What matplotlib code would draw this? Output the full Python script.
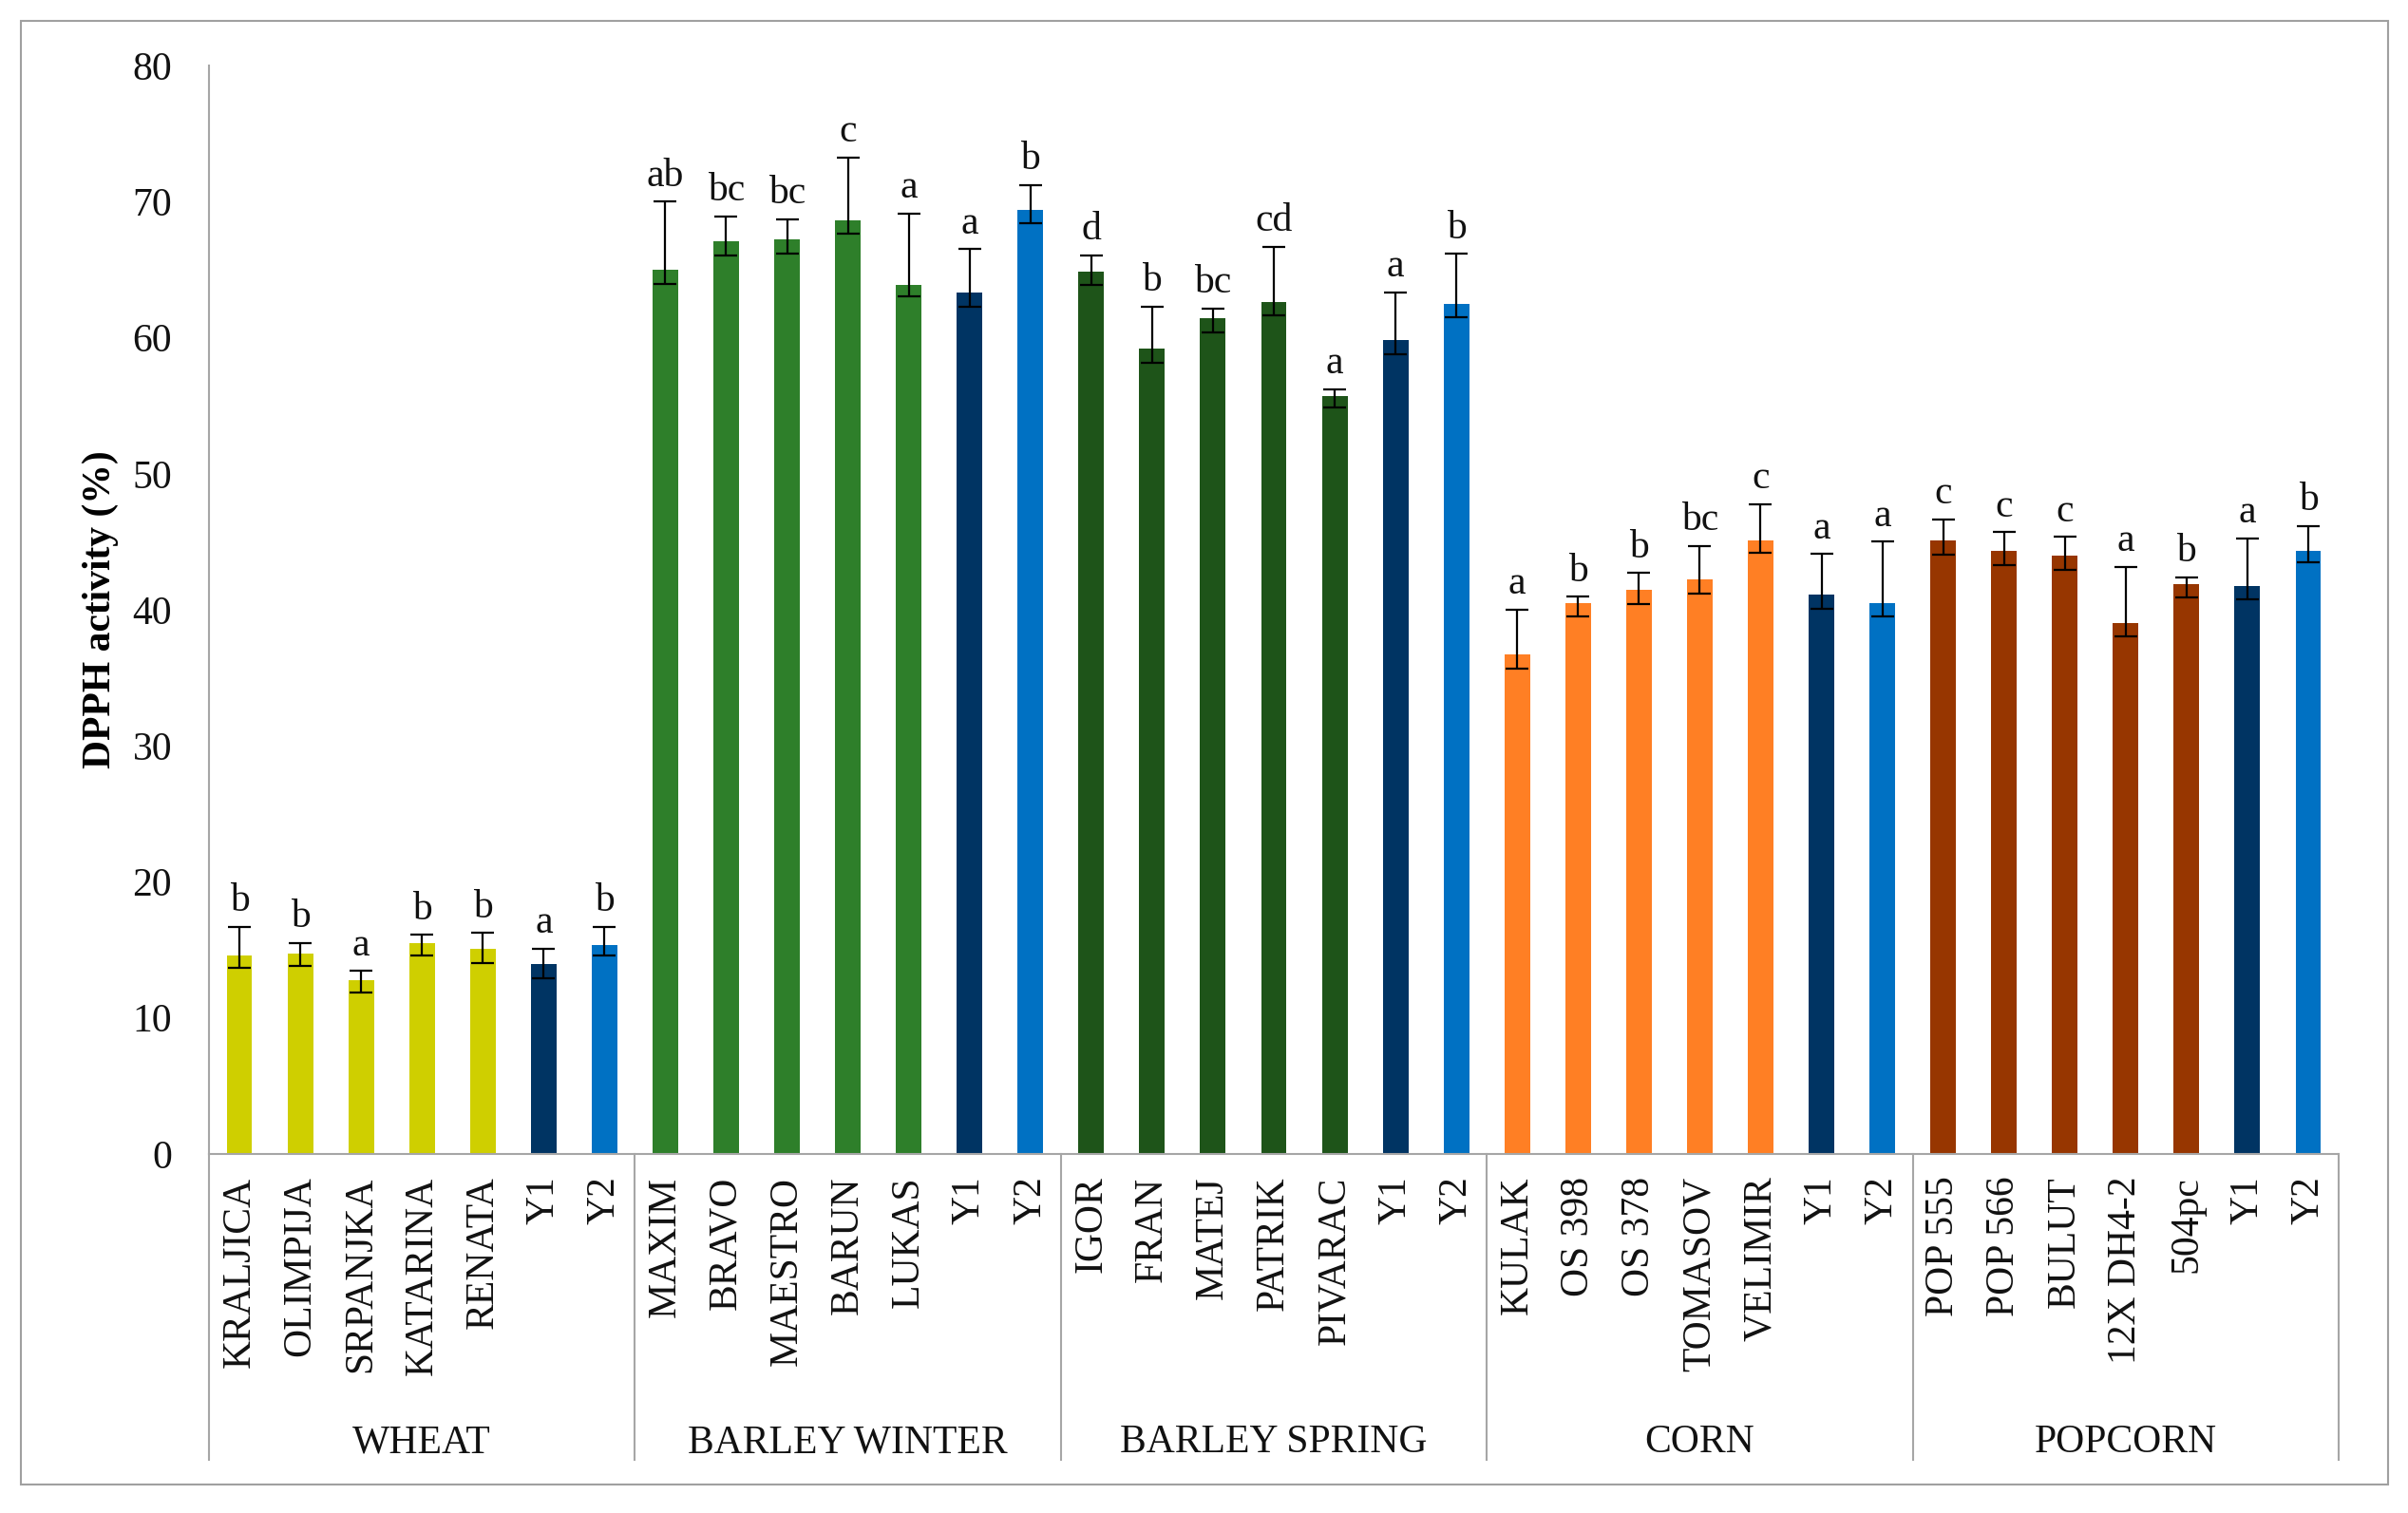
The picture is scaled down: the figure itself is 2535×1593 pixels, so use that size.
import matplotlib
matplotlib.use("Agg")
import matplotlib.pyplot as plt
import matplotlib.transforms as mtransforms
from matplotlib.patches import Rectangle
import numpy as np

plt.rcParams['font.family'] = ['Liberation Serif', 'DejaVu Serif']

# groups and varieties
groups = ['WHEAT', 'BARLEY WINTER', 'BARLEY SPRING', 'CORN', 'POPCORN']
wheat_names = ['KRALJICA', 'OLIMPIJA', 'SRPANJKA', 'KATARINA', 'RENATA', 'Y1', 'Y2']
winter_names = ['MAXIM', 'BRAVO', 'MAESTRO', 'BARUN', 'LUKAS', 'Y1', 'Y2']
spring_names = ['IGOR', 'FRAN', 'MATEJ', 'PATRIK', 'PIVARAC', 'Y1', 'Y2']
corn_names = ['KULAK', 'OS 398', 'OS 378', 'TOMASOV', 'VELIMIR', 'Y1', 'Y2']
pop_names = ['POP 555', 'POP 566', 'BULUT', '12X DH4-2', '504pc', 'Y1', 'Y2']

# DPPH activity (%) values, upper / lower error and letters
wheat_vals = [14.6, 14.75, 12.8, 15.5, 15.05, 13.95, 15.35]
wheat_up = [2.1, 0.75, 0.65, 0.6, 1.2, 1.15, 1.35]
wheat_lo = [0.9, 0.95, 0.95, 0.9, 1.0, 1.05, 0.75]
wheat_let = ['b', 'b', 'a', 'b', 'b', 'a', 'b']

winter_vals = [65.0, 67.1, 67.2, 68.65, 63.9, 63.3, 69.4]
winter_up = [5.0, 1.8, 1.5, 4.6, 5.2, 3.2, 1.8]
winter_lo = [1.05, 1.05, 1.0, 1.0, 0.85, 1.0, 1.0]
winter_let = ['ab', 'bc', 'bc', 'c', 'a', 'a', 'b']

spring_vals = [64.85, 59.2, 61.4, 62.65, 55.7, 59.8, 62.5]
spring_up = [1.2, 3.1, 0.75, 4.05, 0.5, 3.55, 3.65]
spring_lo = [1.0, 1.05, 1.0, 1.0, 0.8, 1.0, 1.0]
spring_let = ['d', 'b', 'bc', 'cd', 'a', 'a', 'b']

corn_vals = [36.7, 40.5, 41.45, 42.25, 45.1, 41.1, 40.5]
corn_up = [3.3, 0.45, 1.25, 2.45, 2.65, 3.0, 4.5]
corn_lo = [1.05, 1.0, 1.05, 1.05, 0.9, 1.0, 1.0]
corn_let = ['a', 'b', 'b', 'bc', 'c', 'a', 'a']

pop_vals = [45.1, 44.3, 44.0, 39.05, 41.9, 41.75, 44.3]
pop_up = [1.55, 1.4, 1.35, 4.1, 0.5, 3.5, 1.85]
pop_lo = [1.05, 1.0, 1.1, 1.0, 1.0, 0.95, 0.8]
pop_let = ['c', 'c', 'c', 'a', 'b', 'a', 'b']

group_colors = ['#CFCF00', '#2E7F2A', '#1E5419', '#FF7F24', '#973600']
y1_color = '#003463'
y2_color = '#0071C3'

names = wheat_names + winter_names + spring_names + corn_names + pop_names
vals = wheat_vals + winter_vals + spring_vals + corn_vals + pop_vals
up = wheat_up + winter_up + spring_up + corn_up + pop_up
lo = wheat_lo + winter_lo + spring_lo + corn_lo + pop_lo
letters = wheat_let + winter_let + spring_let + corn_let + pop_let
n_per = len(wheat_names)

colors = []
for gc in group_colors:
    colors += [gc] * (n_per - 2) + [y1_color, y2_color]

x = np.arange(len(vals))
fs = 30
grey = '#A6A6A6'

fig = plt.figure(figsize=(25.35, 15.93), dpi=100)
ax = fig.add_axes([220/2535, 378/1593, (2462-220)/2535, 1146/1593])

ax.bar(x, vals, width=0.42, color=colors, zorder=2)
ax.errorbar(x, vals, yerr=[lo, up], fmt='none', ecolor='black',
            elinewidth=1.6, capsize=8.3, capthick=1.6, zorder=3)

for xi, v, u, t in zip(x, vals, up, letters):
    ax.annotate(t, (xi, v + u), xytext=(0, 12), textcoords='offset points',
                ha='center', va='baseline', fontsize=fs, color='#111111')

ax.set_xlim(-0.5, len(vals) - 0.5)
ax.set_ylim(0, 80)
ax.set_yticks(np.arange(0, 81, 10))
ax.set_xticks(x)
ax.set_xticklabels(names, rotation=90, va='top', ha='center')
ax.tick_params(axis='both', length=0, labelsize=fs, colors='#111111')
ax.tick_params(axis='x', pad=17)
ax.tick_params(axis='y', pad=28)
for s in ['top', 'right']:
    ax.spines[s].set_visible(False)
for s in ['left', 'bottom']:
    ax.spines[s].set_color(grey)
    ax.spines[s].set_linewidth(1.5)

ax.set_ylabel('DPPH activity (%)', fontsize=fs, fontweight='bold', labelpad=10)

# group separators and group names below the axis
trans = mtransforms.blended_transform_factory(ax.transData, ax.transAxes)
bottom = -(1537 - 1215) / 1146
for i in range(len(groups) + 1):
    xb = i * n_per - 0.5
    ax.plot([xb, xb], [0, bottom], transform=trans, color=grey, lw=1.5,
            clip_on=False)
for i, g in enumerate(groups):
    xc = i * n_per + (n_per - 1) / 2
    ax.text(xc, -(1519 - 1215) / 1146, g, transform=trans, ha='center',
            va='center', fontsize=fs, color='#111111')

# outer frame
fig.patches.append(Rectangle((22/2535, 30/1593), (2514-22)/2535, (1563-22)/1593,
                             transform=fig.transFigure, fill=False,
                             edgecolor='#A0A0A0', lw=1.5))

fig.savefig('out.png', dpi=100)
